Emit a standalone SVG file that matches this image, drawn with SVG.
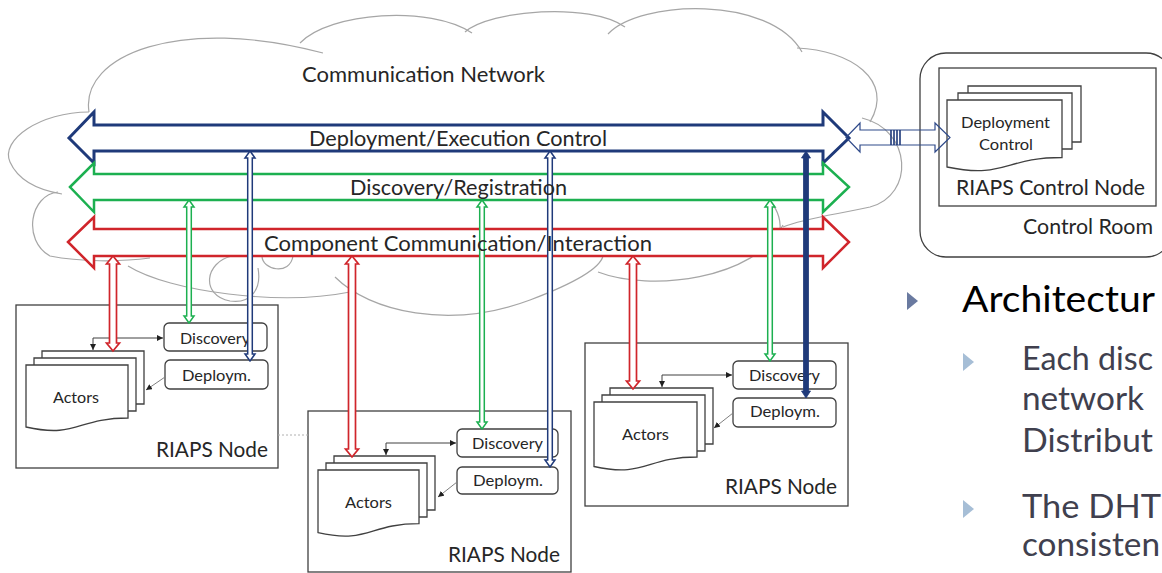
<svg xmlns="http://www.w3.org/2000/svg" width="1162" height="573" viewBox="0 0 1162 573">
<style>
.cloud{fill:none;stroke:#a6a6a6;stroke-width:1.2}
.bus{fill:#fff;stroke-linejoin:miter}
.t{font-family:Lato,"Liberation Sans",sans-serif;fill:#262626}
.box{fill:#fff;stroke:#404040;stroke-width:1.3}
.pg{fill:none;stroke:#404040;stroke-width:1.3}
.blk{fill:none;stroke:#404040;stroke-width:1}
.gry{fill:none;stroke:#7f7f7f;stroke-width:1}
.vr{fill:#fff;stroke:#d0252b;stroke-width:1.7}
.vg{fill:#fff;stroke:#1cb050;stroke-width:1.5}
.vb{fill:#fff;stroke:#1f3a7a;stroke-width:1.5}
.sub{font-family:Lato,"Liberation Sans",sans-serif;font-size:33px;fill:#40404e}
</style>
<defs>
<marker id="ah" viewBox="0 0 10 10" refX="10" refY="5" markerWidth="6" markerHeight="6" orient="auto-start-reverse">
<path d="M0,0 L10,5 L0,10 z" fill="#202020"/>
</marker>
</defs>

<g id="cloud">
<path class="cloud" d="M 89 112 C 80 55, 180 15, 323 53"/>
<path class="cloud" d="M 300 43 C 330 12, 430 5, 472 33"/>
<path class="cloud" d="M 465 32 C 490 10, 590 2, 625 27"/>
<path class="cloud" d="M 608 34 C 640 0, 770 -5, 802 52"/>
<path class="cloud" d="M 797 48 C 850 50, 895 80, 870 122"/>
<path class="cloud" d="M 862 118 C 912 130, 915 195, 870 207 C 840 214, 805 218, 783 227"/>
<path class="cloud" d="M 768 200 C 776 206, 781 218, 780 230"/>
<path class="cloud" d="M 783 225 C 755 280, 650 292, 598 272"/>
<path class="cloud" d="M 335 277 C 370 312, 450 330, 530 300 C 575 283, 600 268, 603 256"/>
<path class="cloud" d="M 128 266 C 170 292, 280 306, 350 292"/>
<path class="cloud" d="M 232 256 C 205 262, 200 295, 230 301 C 250 304, 262 290, 258 268"/>
<path class="cloud" d="M 262 256 C 262 270, 290 276, 293 256"/>
<path class="cloud" d="M 58 192 C 30 195, 22 240, 50 256 C 80 262, 120 262, 150 258"/>
<path class="cloud" d="M 89 112 C 40 112, 0 140, 10 162 C 18 180, 38 190, 62 194"/>
<text class="t" x="302" y="82" font-size="21" textLength="243" lengthAdjust="spacingAndGlyphs">Communication Network</text>
</g>

<g id="bus-deployment">
<path class="bus" stroke="#1f3a7a" stroke-width="3" d="M 69 138 L 94 112 L 94 125 L 823 125 L 823 112 L 849 138 L 823 163 L 823 151 L 94 151 L 94 163 Z"/>
</g>
<g id="bus-discovery">
<path class="bus" stroke="#1cb050" stroke-width="2.5" d="M 70 187 L 94 163 L 94 174 L 823 174 L 823 163 L 849 187 L 823 212 L 823 200 L 94 200 L 94 212 Z"/>
</g>
<g id="bus-component">
<path class="bus" stroke="#d0252b" stroke-width="2.5" d="M 68 242 L 94 217 L 94 229 L 823 229 L 823 217 L 849 242 L 823 268 L 823 256 L 94 256 L 94 268 Z"/>
</g>

<g id="control-room">
<rect class="box" x="920" y="53" width="252" height="204" rx="26"/>
<text class="t" x="1023" y="234" font-size="21" textLength="130" lengthAdjust="spacingAndGlyphs">Control Room</text>
</g>
<g id="riaps-control-node">
<rect class="box" x="939" y="68" width="217" height="138"/>
<path class="pg" d="M 968 93 V 86 H 1081 V 142 H 1072"/>
<path class="pg" d="M 958 100 V 93 H 1072 V 149 H 1062"/>
<path class="box" d="M 947 100 H 1062 V 157.5 C 1004.5 157.5, 1004.5 179, 947 167 Z"/>
<text class="t" x="961" y="128" font-size="15" textLength="89" lengthAdjust="spacingAndGlyphs">Deployment</text>
<text class="t" x="979" y="150" font-size="15" textLength="54" lengthAdjust="spacingAndGlyphs">Control</text>
<text class="t" x="956" y="195" font-size="21" textLength="189" lengthAdjust="spacingAndGlyphs">RIAPS Control Node</text>
</g>

<g id="riaps-node-1">
<rect class="box" x="16" y="305" width="262" height="163"/>
<rect class="box" x="164" y="323" width="103" height="28" rx="5"/>
<text class="t" x="180" y="344" font-size="15" textLength="70" lengthAdjust="spacingAndGlyphs">Discovery</text>
<rect class="box" x="165" y="360" width="103" height="29" rx="5"/>
<text class="t" x="182" y="381" font-size="15" textLength="69" lengthAdjust="spacingAndGlyphs">Deploym.</text>
<path class="pg" d="M 42 358 V 351 H 144 V 404 H 136"/>
<path class="pg" d="M 34 365 V 358 H 136 V 411 H 128"/>
<path class="box" d="M 26 365 H 128 V 418 C 77 418, 77 438.5, 26 427 Z"/>
<text class="t" x="53" y="403" font-size="15" textLength="46" lengthAdjust="spacingAndGlyphs">Actors</text>
<text class="t" x="156" y="457" font-size="21" textLength="112" lengthAdjust="spacingAndGlyphs">RIAPS Node</text>
</g>

<g id="riaps-node-2">
<rect class="box" x="308" y="411" width="263" height="161"/>
<rect class="box" x="457" y="429" width="101" height="28" rx="5"/>
<text class="t" x="472" y="449" font-size="15" textLength="71" lengthAdjust="spacingAndGlyphs">Discovery</text>
<rect class="box" x="457" y="467" width="101" height="27" rx="5"/>
<text class="t" x="473" y="486" font-size="15" textLength="70" lengthAdjust="spacingAndGlyphs">Deploym.</text>
<path class="pg" d="M 334 463 V 456 H 435 V 510 H 427"/>
<path class="pg" d="M 326 470 V 463 H 427 V 517 H 419"/>
<path class="box" d="M 318 470 H 419 V 523.7 C 368.5 523.7, 368.5 544, 318 532.6 Z"/>
<text class="t" x="345" y="508" font-size="15" textLength="47" lengthAdjust="spacingAndGlyphs">Actors</text>
<text class="t" x="448" y="562" font-size="21" textLength="112" lengthAdjust="spacingAndGlyphs">RIAPS Node</text>
</g>

<g id="riaps-node-3">
<rect class="box" x="585" y="343" width="263" height="163"/>
<rect class="box" x="733" y="361" width="103" height="28" rx="5"/>
<text class="t" x="749" y="381" font-size="15" textLength="71" lengthAdjust="spacingAndGlyphs">Discovery</text>
<rect class="box" x="733" y="398" width="103" height="29" rx="5"/>
<text class="t" x="750" y="417" font-size="15" textLength="70" lengthAdjust="spacingAndGlyphs">Deploym.</text>
<path class="pg" d="M 610 395 V 388 H 713 V 444 H 705"/>
<path class="pg" d="M 602 402 V 395 H 705 V 451 H 697"/>
<path class="box" d="M 594 402 H 697 V 457 C 645.5 457, 645.5 478, 594 466.5 Z"/>
<text class="t" x="622" y="440" font-size="15" textLength="47" lengthAdjust="spacingAndGlyphs">Actors</text>
<text class="t" x="725" y="494" font-size="21" textLength="112" lengthAdjust="spacingAndGlyphs">RIAPS Node</text>
</g>

<g id="connectors">
<path class="blk" d="M 93 350 V 338 H 163" marker-start="url(#ah)" marker-end="url(#ah)"/>
<path class="gry" d="M 165 377 L 146 390" marker-end="url(#ah)"/>
<path class="blk" d="M 386 455 V 443 H 456" marker-start="url(#ah)" marker-end="url(#ah)"/>
<path class="gry" d="M 457 482 L 438 497" marker-end="url(#ah)"/>
<path class="blk" d="M 662 387 V 375 H 732" marker-start="url(#ah)" marker-end="url(#ah)"/>
<path class="gry" d="M 733 413 L 714 428" marker-end="url(#ah)"/>
<path d="M 278 435 H 308" fill="none" stroke="#b0b0b0" stroke-width="1" stroke-dasharray="2 2"/>

<polygon class="vr" points="113,256 119.5,264 116.5,264 116.5,343 119.5,343 113,351 106.5,343 109.5,343 109.5,264 106.5,264"/>
<polygon class="vr" points="352,256 358.5,264 355.5,264 355.5,449 358.5,449 352,457 345.5,449 348.5,449 348.5,264 345.5,264"/>
<polygon class="vr" points="633,256 639.5,264 636.5,264 636.5,381 639.5,381 633,389 626.5,381 629.5,381 629.5,264 626.5,264"/>

<polygon class="vg" points="189,200 194,207 191.3,207 191.3,316 194,316 189,323 184,316 186.7,316 186.7,207 184,207"/>
<polygon class="vg" points="482,200 487,207 484.3,207 484.3,422 487,422 482,429 477,422 479.7,422 479.7,207 477,207"/>
<polygon class="vg" points="770,200 775,207 772.3,207 772.3,354 775,354 770,361 765,354 767.7,354 767.7,207 765,207"/>

<polygon class="vb" points="250,151 255,158 252.3,158 252.3,354 255,354 250,361 245,354 247.7,354 247.7,158 245,158"/>
<polygon class="vb" points="550,151 555,158 552.3,158 552.3,460 555,460 550,467 545,460 547.7,460 547.7,158 545,158"/>
<polygon fill="#1f3a7a" stroke="#1f3a7a" stroke-width="0.8" points="806,151 810.5,158 808.5,158 808.5,391 810.5,391 806,398 801.5,391 803.5,391 803.5,158 801.5,158"/>

<path fill="none" stroke="#2f4a8a" stroke-width="1.2" d="M 846 137.5 L 860 123 L 860 130 L 935 130 L 935 123 L 950 137.5 L 935 152 L 935 145 L 860 145 L 860 152 Z"/>
<path fill="none" stroke="#1f3a7a" stroke-width="1.6" d="M 891 130 V 145 M 894 130 V 145 M 897 130 V 145 M 900 130 V 145"/>
</g>

<g id="bus-labels">
<text class="t" x="309" y="146" font-size="21" textLength="298" lengthAdjust="spacingAndGlyphs">Deployment/Execution Control</text>
<text class="t" x="350" y="195" font-size="21" textLength="217" lengthAdjust="spacingAndGlyphs">Discovery/Registration</text>
<text class="t" x="264" y="251" font-size="21" textLength="388" lengthAdjust="spacingAndGlyphs">Component Communication/Interaction</text>
</g>

<g id="bullets">
<polygon points="907,292 918,301 907,310" fill="#6a7aa0"/>
<text x="962" y="312" font-family="Lato,'Liberation Sans',sans-serif" font-size="36" fill="#000" textLength="193" lengthAdjust="spacingAndGlyphs">Architectur</text>
<polygon points="963,353 974,362 963,371" fill="#a6bed6"/>
<text class="sub" x="1022" y="370" textLength="131" lengthAdjust="spacingAndGlyphs">Each disc</text>
<text class="sub" x="1022" y="410" textLength="122" lengthAdjust="spacingAndGlyphs">network</text>
<text class="sub" x="1022" y="452" textLength="131" lengthAdjust="spacingAndGlyphs">Distribut</text>
<polygon points="963,500 974,509 963,518" fill="#a6bed6"/>
<text class="sub" x="1022" y="518" textLength="139" lengthAdjust="spacingAndGlyphs">The DHT</text>
<text class="sub" x="1022" y="556" textLength="138" lengthAdjust="spacingAndGlyphs">consisten</text>
</g>
</svg>
